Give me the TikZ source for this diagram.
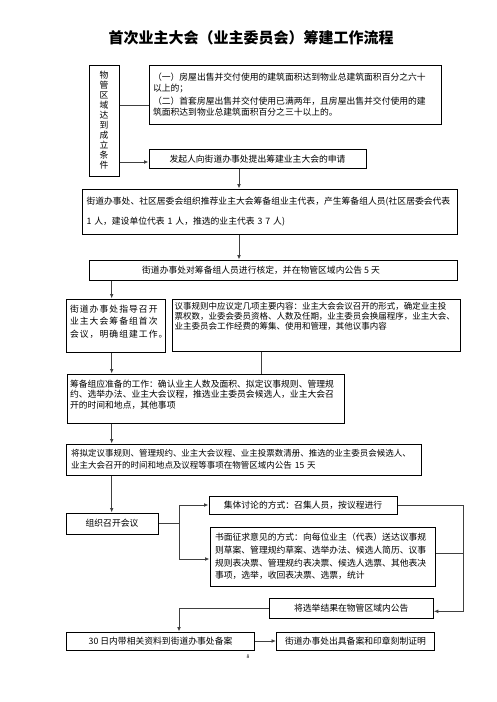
\documentclass[tikz,border=0pt]{standalone}
\usepackage{fontspec}
\usepackage{tikz}
\usetikzlibrary{arrows.meta,positioning}
\newfontfamily\cjk{Noto Sans CJK SC}
\newcommand{\boxfont}[2]{\cjk\fontsize{#1}{#2}\selectfont}

\begin{document}
\begin{tikzpicture}[
  x=1pt,y=-1pt,
  box/.style={draw,line width=1pt,inner sep=0pt,align=left,font=\boxfont{8.8}{10}},
  arr/.style={-{Latex[length=4.5pt,width=3.8pt]},line width=0.9pt,draw=black!75},
  link/.style={line width=0.9pt,draw=black!75}
]
\useasboundingbox (0,0) rectangle (496,702);
\node[font=\cjk\bfseries\fontsize{15}{15}\selectfont] (title) at (251,38) {首次业主大会（业主委员会）筹建工作流程};

\node[box,minimum width=30,minimum height=111,align=center] (cond) at (104,120.5) {物\\管\\区\\域\\达\\到\\成\\立\\条\\件};
\node[box,minimum width=292,minimum height=59,text width=284,font=\boxfont{8.8}{10.5}] (req) at (295,94.5)
  {（一）房屋出售并交付使用的建筑面积达到物业总建筑面积百分之六十\\以上的；\\[3pt]（二）首套房屋出售并交付使用已满两年，且房屋出售并交付使用的建\\筑面积达到物业总建筑面积百分之三十以上的。};
\node[box,minimum width=217,minimum height=19,align=center] (apply) at (257.5,159) {发起人向街道办事处提出筹建业主大会的申请};
\node[box,minimum width=375,minimum height=45,text width=366,font=\boxfont{8.8}{20}] (group) at (269.5,211.5)
  {街道办事处、社区居委会组织推荐业主大会筹备组业主代表，产生筹备组人员(社区居委会代表\\1 人，建设单位代表 1 人，推选的业主代表 3 7 人)};
\node[box,minimum width=368,minimum height=20,align=center] (verify) at (273,270) {街道办事处对筹备组人员进行核定，并在物管区域内公告 5 天\hspace*{24pt}};

\node[box,minimum width=99,minimum height=53,text width=91,font=\boxfont{8.8}{12.5}\addfontfeatures{LetterSpace=12}] (guide) at (115.5,325.5)
  {街道办事处指导召开\\业主大会筹备组首次\\会议，明确组建工作。\\[-3.5pt]\mbox{}};
\node[box,minimum width=288,minimum height=52,text width=283,font=\boxfont{8.5}{10}] (rules) at (316,325)
  {议事规则中应议定几项主要内容：业主大会会议召开的形式，确定业主投\\票权数，业委会委员资格、人数及任期，业主委员会换届程序，业主大会、\\业主委员会工作经费的筹集、使用和管理，其他议事内容\\[8pt]\mbox{}};
\node[box,minimum width=277,minimum height=49,text width=271,font=\boxfont{8.8}{10.5}] (prep) at (205.5,398.5)
  {筹备组应准备的工作：确认业主人数及面积、拟定议事规则、管理规\\约、选举办法、业主大会议程，推选业主委员会候选人，业主大会召\\开的时间和地点，其他事项\\[-2pt]\mbox{}};
\node[box,minimum width=355,minimum height=31,text width=345,font=\boxfont{8.5}{12.3}] (notice) at (243.5,459.5)
  {将拟定议事规则、管理规约、业主大会议程、业主投票数清册、推选的业主委员会候选人、\\业主大会召开的时间和地点及议程等事项在物管区域内公告 15 天};

\node[box,minimum width=92,minimum height=21,align=center] (meet) at (112,523.5) {组织召开会议};
\node[box,minimum width=188,minimum height=18,align=center] (discuss) at (303,505) {集体讨论的方式：召集人员，按议程进行};
\node[box,minimum width=225,minimum height=59,text width=215,font=\boxfont{8.8}{12.7}] (written) at (322.5,556.5)
  {书面征求意见的方式：向每位业主（代表）送达议事规\\则草案、管理规约草案、选举办法、候选人简历、议事\\规则表决票、管理规约表决票、候选人选票、其他表决\\事项，选举，收回表决票、选票，统计};
\node[box,minimum width=164,minimum height=20,align=center] (result) at (351.3,608.3) {将选举结果在物管区域内公告};
\node[box,minimum width=188,minimum height=18,align=center] (file) at (160.5,641) {30 日内带相关资料到街道办事处备案};
\node[box,minimum width=158,minimum height=18,align=center] (cert) at (355.5,641) {街道办事处出具备案和印章刻制证明};
\node[font=\boxfont{5}{5}] (page) at (248,657) {8};

% trunks of the flow
\coordinate (spine) at (239,0);
\coordinate (lane) at (111.7,0);
\coordinate (mid) at (261,0);
\coordinate (fork) at (179,0);
\coordinate (rail) at (463,0);

\coordinate (ab) at ([yshift=-11pt]req.west);
\draw[link] (cond.east |- ab) -- (ab);
\coordinate (ac) at ([yshift=-3pt]apply.west);
\draw[arr] (cond.east |- ac) -- (ac);
\draw[arr] (spine |- apply.south) -- (spine |- group.north);
\draw[arr] (spine |- group.south) -- (spine |- verify.north);
\draw[arr] (lane |- verify.south) -- (lane |- guide.north);
\draw[arr] (lane |- guide.south) -- (lane |- prep.north);
\draw[link] (mid |- rules.south) -- (mid |- prep.north);
\draw[arr] (lane |- prep.south) -- (lane |- notice.north);
\draw[arr] (lane |- notice.south) -- (lane |- meet.north);
\draw[arr] (meet.east) -- (fork |- meet.east) |- (discuss.west);
\draw[arr] (fork |- meet.east) |- ([yshift=-2.5pt]written.west);
\coordinate (we) at ([yshift=3.5pt]written.east);
\draw[link] (we) -- (rail |- we);
\draw[arr] (discuss.east) -- (rail |- discuss.east) |- ([yshift=-3pt]result.east);
\draw[arr] (result.west) -| (fork |- file.north);
\draw[arr] (file.east) -- (cert.west);
\end{tikzpicture}
\end{document}
